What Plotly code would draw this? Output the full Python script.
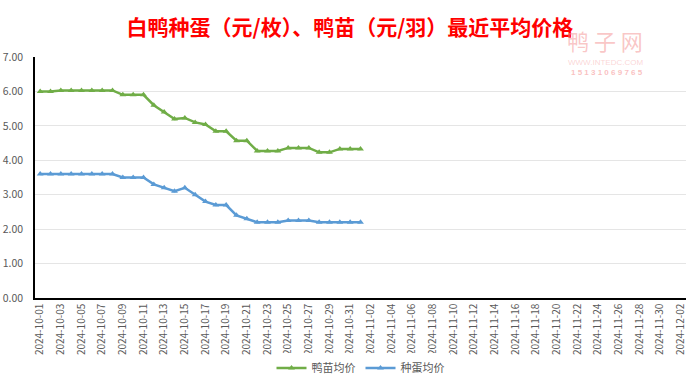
import pandas as pd
import plotly.graph_objects as go

# Category axis: daily dates
categories = [d.strftime("%Y-%m-%d") for d in pd.date_range("2024-10-01", "2024-12-02", freq="D")]
tick_labels = categories[::2]

data_dates = categories[:32]
duckling_price = [6.00, 6.00, 6.03, 6.03, 6.03, 6.03, 6.03, 6.03,
                  5.90, 5.90, 5.90, 5.60, 5.40, 5.20, 5.23, 5.10,
                  5.04, 4.84, 4.84, 4.57, 4.57, 4.27, 4.27, 4.27,
                  4.36, 4.36, 4.36, 4.23, 4.23, 4.33, 4.33, 4.33]
egg_price = [3.60, 3.60, 3.60, 3.60, 3.60, 3.60, 3.60, 3.60,
             3.50, 3.50, 3.50, 3.30, 3.20, 3.10, 3.20, 3.00,
             2.80, 2.70, 2.70, 2.40, 2.30, 2.20, 2.20, 2.20,
             2.25, 2.25, 2.25, 2.20, 2.20, 2.20, 2.20, 2.20]
y_ticks = [0, 1, 2, 3, 4, 5, 6, 7]

font_family = "Noto Sans CJK SC, Noto Sans, sans-serif"

fig = go.Figure()
fig.add_trace(go.Scatter(
    x=data_dates, y=duckling_price, name="鸭苗均价", mode="lines+markers",
    line=dict(color="#70AD47", width=2.5),
    marker=dict(symbol="triangle-up", size=6, color="#70AD47"),
))
fig.add_trace(go.Scatter(
    x=data_dates, y=egg_price, name="种蛋均价", mode="lines+markers",
    line=dict(color="#5B9BD5", width=2.5),
    marker=dict(symbol="triangle-up", size=6, color="#5B9BD5"),
))

fig.update_layout(
    width=700, height=383,
    margin=dict(l=35, r=14, t=57, b=85, autoexpand=False),
    paper_bgcolor="white", plot_bgcolor="white",
    font=dict(family=font_family, color="#595959", size=10),
    title=dict(text="<b>白鸭种蛋（元/枚）、鸭苗（元/羽）最近平均价格</b>",
               x=0.5, xanchor="center", y=1 - 28 / 383, yanchor="middle",
               font=dict(family=font_family, size=21, color="#FF0000")),
    showlegend=True,
    legend=dict(orientation="h", x=0.5, xanchor="center", y=-0.29, yanchor="middle",
                font=dict(size=11, color="#595959"), itemwidth=30, tracegroupgap=0),
    xaxis=dict(type="category", categoryorder="array", categoryarray=categories,
               range=[-0.5, len(categories) - 0.5], automargin=False,
               tickmode="array", tickvals=tick_labels, ticktext=tick_labels,
               tickangle=-90, tickfont=dict(size=10, color="#595959"),
               showgrid=False, showline=True, linecolor="black", linewidth=1.5,
               ticks="", ticklen=0),
    yaxis=dict(range=[0, 7], tickvals=y_ticks, tickformat=".2f", automargin=False,
               tickfont=dict(size=10.5, color="#595959"),
               showgrid=True, gridcolor="#E5E5E5", gridwidth=1,
               showline=True, linecolor="black", linewidth=1.5,
               zeroline=False, ticks="", ticklabelstandoff=8),
)

# Watermark
wm_x = (645 - 35) / 651
fig.add_annotation(text="鸭 子 网", xref="paper", yref="paper", x=wm_x, y=(298 - 40) / 241,
                   yanchor="middle", showarrow=False,
                   font=dict(size=22, color="rgba(245,150,150,0.55)", family=font_family))
fig.add_annotation(text="WWW.INTEDC.COM", xref="paper", yref="paper", x=wm_x, y=(298 - 62) / 241,
                   yanchor="middle", showarrow=False,
                   font=dict(size=8, color="rgba(245,150,150,0.4)", family="Liberation Sans"))
fig.add_annotation(text="<b>1 5 1 3 1 0 6 9 7 6 5</b>", xref="paper", yref="paper", x=wm_x, y=(298 - 72) / 241,
                   yanchor="middle", showarrow=False,
                   font=dict(size=8, color="rgba(245,150,150,0.6)", family="Liberation Sans"))

fig.write_html("out.html", config={"displayModeBar": False},
               post_script="document.body.style.margin='0';")
